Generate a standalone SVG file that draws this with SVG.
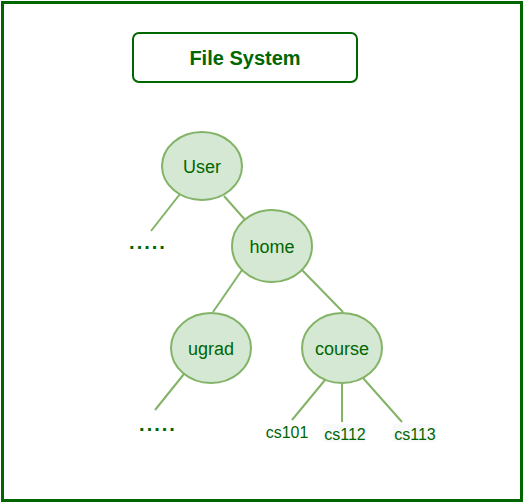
<svg xmlns="http://www.w3.org/2000/svg" width="525" height="504" viewBox="0 0 525 504">
<style>
.node{fill:#d5e8d4;stroke:#82b366;stroke-width:2}
.edge{stroke:#82b366;stroke-width:2;fill:none}
.lbl{font-family:"Liberation Sans",Arial,sans-serif;font-size:18px;fill:#006600;text-anchor:middle;dominant-baseline:central}
.leaf{font-family:"Liberation Sans",Arial,sans-serif;font-size:16px;fill:#006600;text-anchor:middle}
.dots{font-family:"Liberation Sans",Arial,sans-serif;font-size:20px;font-weight:bold;fill:#006600;text-anchor:middle;letter-spacing:2px}
</style>
<rect x="0" y="0" width="525" height="504" fill="#ffffff"/>
<rect x="2.5" y="2.5" width="519" height="498" fill="none" stroke="#006600" stroke-width="3"/>
<g id="title">
<rect x="133" y="33" width="224" height="49" rx="6" fill="#ffffff" stroke="#006600" stroke-width="2"/>
<text x="245" y="58" class="lbl" style="font-weight:bold;font-size:20px">File System</text>
</g>
<g id="connectors">
<line class="edge" x1="180" y1="194" x2="151" y2="231"/>
<line class="edge" x1="224" y1="196" x2="247" y2="222"/>
<line class="edge" x1="242" y1="270" x2="213" y2="312"/>
<line class="edge" x1="301" y1="269" x2="343" y2="312"/>
<line class="edge" x1="184" y1="374" x2="155" y2="410"/>
<line class="edge" x1="325" y1="380" x2="292" y2="420"/>
<line class="edge" x1="342" y1="383" x2="342" y2="422"/>
<line class="edge" x1="363" y1="378" x2="402" y2="422"/>
</g>
<g id="user"><ellipse class="node" cx="202" cy="166" rx="40" ry="34"/><text class="lbl" x="202" y="167">User</text></g>
<g id="home"><ellipse class="node" cx="272" cy="246" rx="40" ry="36"/><text class="lbl" x="272" y="247">home</text></g>
<g id="ugrad"><ellipse class="node" cx="211" cy="348" rx="40" ry="35"/><text class="lbl" x="211" y="349">ugrad</text></g>
<g id="course"><ellipse class="node" cx="342" cy="348" rx="40" ry="35"/><text class="lbl" x="342" y="349">course</text></g>
<g id="dots1"><text class="dots" x="148" y="249">.....</text></g>
<g id="dots2"><text class="dots" x="158" y="431">.....</text></g>
<g id="cs101"><text class="leaf" x="287" y="438">cs101</text></g>
<g id="cs112"><rect x="323" y="424" width="43" height="18" fill="#f8f9fa"/><text class="leaf" x="345" y="440">cs112</text></g>
<g id="cs113"><rect x="393" y="424" width="43" height="18" fill="#f8f9fa"/><text class="leaf" x="415" y="440">cs113</text></g>
</svg>
